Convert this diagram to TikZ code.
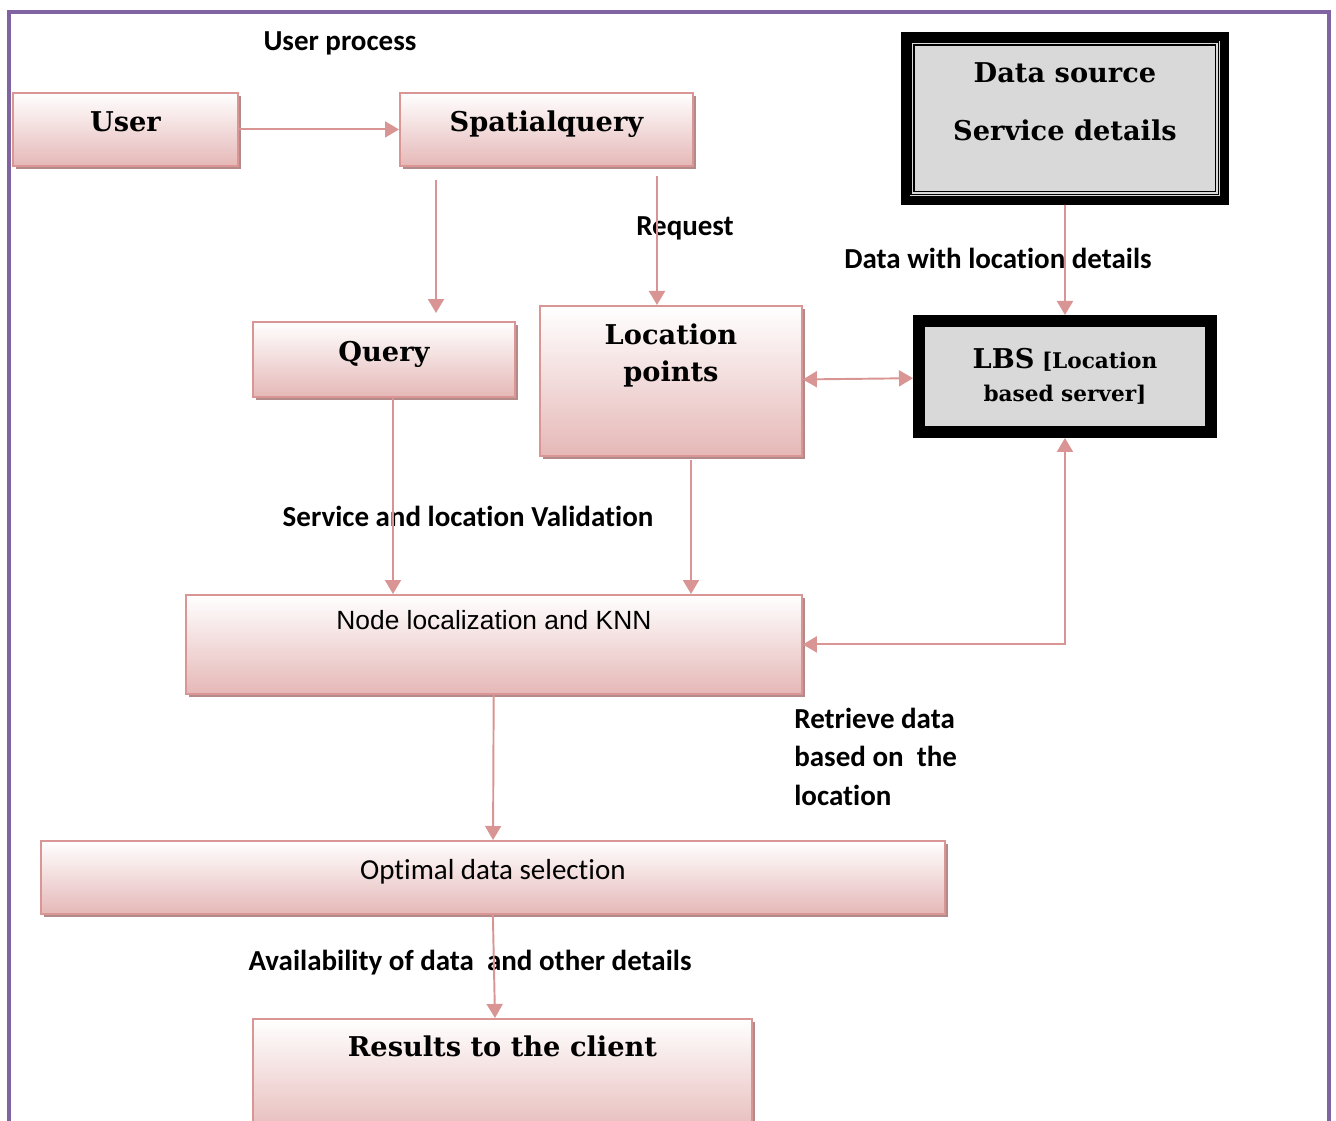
\documentclass[tikz,border=0pt]{standalone}
\usepackage{fontspec}
\usepackage{tikz}
\usetikzlibrary{calc,arrows.meta,positioning,shadows}
\newfontfamily\calfont[Ligatures=NoCommon]{Carlito}
\newfontfamily\arialfont{Liberation Sans}
\newfontfamily\boxfont{DejaVu Serif}
\definecolor{framepurple}{RGB}{128,100,162}
\definecolor{linkpink}{RGB}{217,149,148}
\definecolor{boxline}{RGB}{217,150,148}
\definecolor{boxpink}{RGB}{229,184,183}
\definecolor{boxshadow}{RGB}{178,138,138}
\definecolor{srcgray}{RGB}{217,217,217}
\tikzset{
  box/.style={draw=boxline, line width=1.1pt, top color=white, bottom color=boxpink,
    general shadow={fill=boxshadow, shadow xshift=0.06cm, shadow yshift=-0.06cm},
    anchor=north west, inner sep=0pt, align=center,
    font=\boxfont\bfseries\fontsize{15.5}{21}\selectfont},
  raised/.style={text height=0.45cm, text depth=0.35cm},
  srcbox/.style={draw=black, line width=9*0.02cm, fill=srcgray, anchor=north west, inner sep=0pt},
  lbsbox/.style={draw=black, line width=12*0.02cm, fill=srcgray, anchor=north west, inner sep=0pt,
    align=center, font=\boxfont\bfseries\fontsize{12.3}{19}\selectfont},
  head/.style={inner sep=0pt, align=center, font=\boxfont\bfseries\fontsize{15.5}{21}\selectfont},
  lbl/.style={inner sep=0pt, font=\calfont\bfseries\fontsize{16.5}{21.8}\selectfont},
  flow/.style={draw=linkpink, line width=1.1pt, ->},
  flow2/.style={draw=linkpink, line width=1.1pt, <->}
}
\begin{document}
\begin{tikzpicture}[x=0.02cm,y=-0.02cm,>={Triangle[length=0.28cm,width=0.32cm]}]
\useasboundingbox (0,0) rectangle (1336,1121);
\clip (0,0) rectangle (1336,1121);
% outer frame
\draw[framepurple, line width=2.8pt] (9,1140) -- (9,12) -- (1329,12) -- (1329,1140);

% boxes
\node[box, raised, minimum width=4.5cm, minimum height=1.46cm] (user) at (12,92) {User};
\node[box, raised, minimum width=5.86cm, minimum height=1.46cm] (spq) at (399,92) {Spatialquery};
\node[srcbox, minimum width=6.38cm, minimum height=3.28cm] (src) at (901,32) {};
\draw[line width=0.6pt] ([shift={(10,10)}]src.north west) rectangle ([shift={(-10,-10)}]src.south east);
\draw[line width=0.6pt] ([shift={(13,13)}]src.north west) rectangle ([shift={(-13,-13)}]src.south east);
\node[head, below=0.6cm of src.north] (srctxt) {Data source\\[12pt]Service details};
\node[box, raised, minimum width=5.24cm, minimum height=1.5cm] (query) at (252,321) {Query};
\node[box, minimum width=5.24cm, minimum height=3cm] (loc) at (539,305) {};
\node[head, below=0.37cm of loc.north] (loctxt) {Location\\points};
\node[lbsbox, minimum width=5.84cm, minimum height=2.22cm] (lbs) at (913,315)
  {{\fontsize{15.5}{19}\selectfont LBS} [Location\\based server]};
\node[box, minimum width=12.32cm, minimum height=1.98cm] (nodeloc) at (185,594) {};
\node[below=0.33cm of nodeloc.north, inner sep=0pt, font=\arialfont\fontsize{15}{17}\selectfont] (nltxt) {Node localization and KNN};
\node[box, raised, minimum width=18.08cm, minimum height=1.46cm, font=\calfont\fontsize{16.5}{17}\selectfont] (opt) at (40,840) {Optimal data selection};
\node[box, minimum width=9.98cm, minimum height=2.4cm] (res) at (252,1018) {};
\node[head, below=0.34cm of res.north] (restxt) {Results to the client};

% labels
\node[lbl] (uplbl) at (340,43) {User process};
\node[lbl] (reqlbl) at (685,228) {Request};
\node[lbl] (dwl) at (998,258) {Data with location details};
\node[lbl] (svl) at (468,516) {Service and location Validation};
\node[lbl, align=left, anchor=north west] (rdl) at (794,708) {Retrieve data\\based on~ the\\location};
\node[lbl] (avl) at (470,963) {Availability of data~ and other details};

% connectors
\coordinate (xq) at (436,0);
\coordinate (xr) at (657,0);
\coordinate (xv) at (393,0);
\coordinate (xl) at (691,0);
\coordinate (xc) at (495,0);
\draw[flow] (user) -- (spq);
\draw[flow, shorten <=0.26cm, shorten >=0.16cm] (spq.south -| xq) -- (query.north -| xq);
\draw[flow, shorten <=0.18cm] (spq.south -| xr) -- (loc.north -| xr);
\draw[flow] (src) -- (lbs);
\draw[flow2] (loc) -- (lbs);
\draw[flow] (query.south -| xv) -- (nodeloc.north -| xv);
\draw[flow, shorten <=0.06cm] (loc.south -| xl) -- (nodeloc.north -| xl);
\draw[flow2] (lbs.south) |- (nodeloc.east);
\draw[flow] (nodeloc) -- (opt);
\draw[flow] (opt.south) -- (res.north -| xc);
\end{tikzpicture}
\end{document}
